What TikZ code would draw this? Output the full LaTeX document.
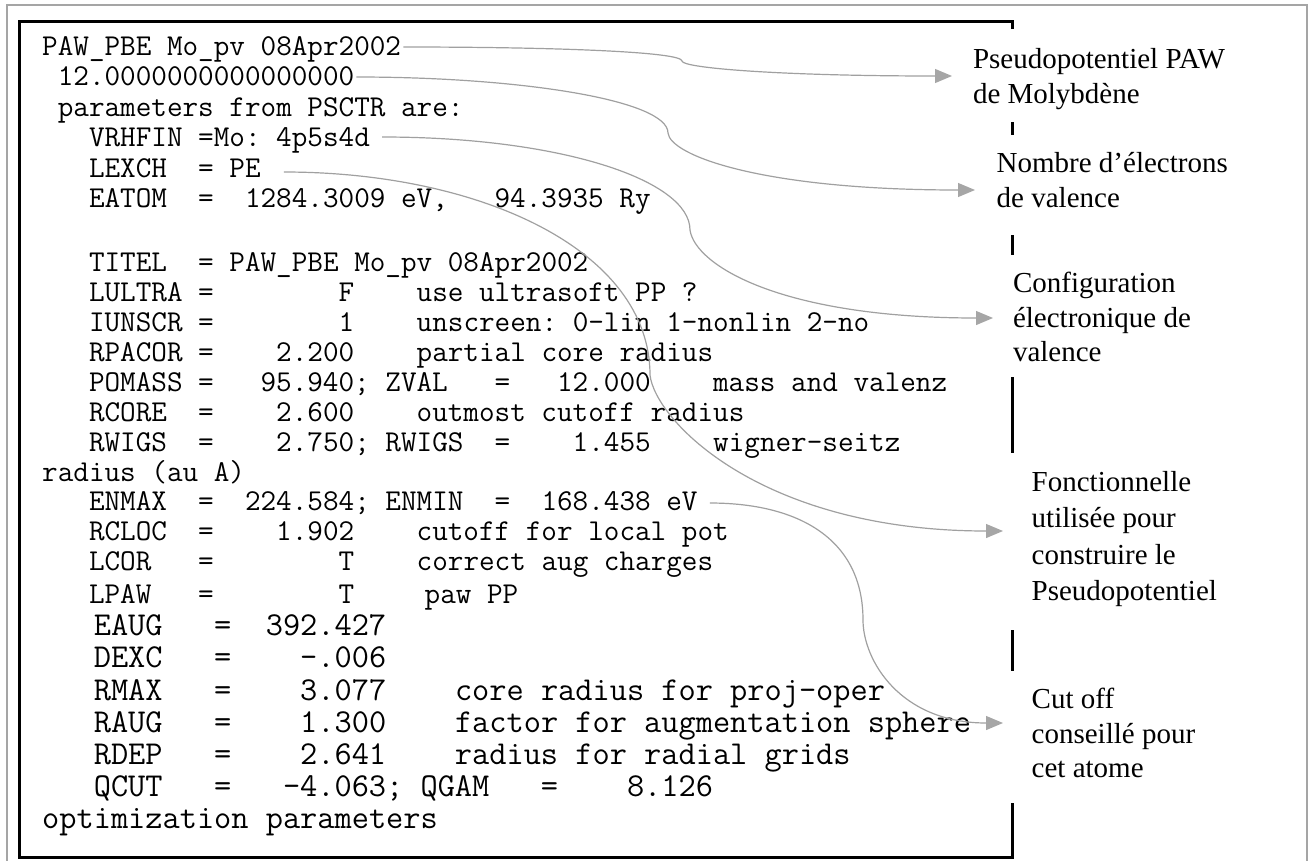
\documentclass[tikz,border=0pt]{standalone}
\usepackage{fontspec}
\setmainfont{Liberation Serif}
\usetikzlibrary{arrows.meta,calc}
\definecolor{linegray}{RGB}{160,160,160}
\definecolor{arrowgray}{RGB}{166,166,166}
\definecolor{framegray}{RGB}{165,165,165}
\newcommand\codefont{\ttfamily\fontsize{30.3}{30}\selectfont}
\newcommand\codefontbig{\ttfamily\fontsize{33.4}{33}\selectfont}
\newcommand\labfont{\fontsize{29}{34.5}\selectfont}
\newcommand\labfontb{\fontsize{29}{36.3}\selectfont}
\begin{document}
\begin{tikzpicture}[x=1pt,y=-1pt,
  code/.style={anchor=base west,inner sep=0pt,font=\codefont},
  codebig/.style={anchor=base west,inner sep=0pt,font=\codefontbig},
  lab/.style={anchor=north west,inner sep=0pt,align=left,font=\labfont},
  conn/.style={draw=linegray,line width=1.2pt,-{Triangle[length=17pt,width=14pt,color=arrowgray]}},
  boxline/.style={line width=3pt,black},
]
\useasboundingbox (0,0) rectangle (1309,860);
% outer gray frame
\draw[framegray,line width=2pt] (7,5) rectangle (1307,875);
% black box
\draw[boxline] (1012,29) -- (1012,21) -- (19,21) -- (19,857) -- (1012,857) -- (1012,803);
\draw[boxline] (1012,122) -- (1012,135);
\draw[boxline] (1012,235) -- (1012,255);
\draw[boxline] (1012,377) -- (1012,453);
\draw[boxline] (1012,630) -- (1012,671);

% code lines
\node[code] (l1)  at (42,55)  {PAW\_PBE~Mo\_pv~08Apr2002};
\node[code] (l2)  at (42,85)  {~12.0000000000000000};
\node[code] (l3)  at (42,116) {~parameters~from~PSCTR~are:};
\node[code] (l4)  at (42,146) {~~~VRHFIN~=Mo:~4p5s4d};
\node[code] (l5)  at (42,177) {~~~LEXCH~~=~PE};
\node[code] (l6)  at (42,207) {~~~EATOM~~=~~1284.3009~eV,~~~94.3935~Ry};
\node[code] (l8)  at (42,271) {~~~TITEL~~=~PAW\_PBE~Mo\_pv~08Apr2002};
\node[code] (l9)  at (42,301) {~~~LULTRA~=~~~~~~~~F~~~~use~ultrasoft~PP~?};
\node[code] (l10) at (42,331) {~~~IUNSCR~=~~~~~~~~1~~~~unscreen:~0-lin~1-nonlin~2-no};
\node[code] (l11) at (42,361) {~~~RPACOR~=~~~~2.200~~~~partial~core~radius};
\node[code] (l12) at (42,391) {~~~POMASS~=~~~95.940;~ZVAL~~~=~~~12.000~~~~mass~and~valenz};
\node[code] (l13) at (42,421) {~~~RCORE~~=~~~~2.600~~~~outmost~cutoff~radius};
\node[code] (l14) at (42,451) {~~~RWIGS~~=~~~~2.750;~RWIGS~~=~~~~1.455~~~~wigner-seitz};
\node[code] (l15) at (42,481) {radius~(au~A)};
\node[code] (l16) at (42,510) {~~~ENMAX~~=~~224.584;~ENMIN~~=~~168.438~eV};
\node[code] (l17) at (42,540) {~~~RCLOC~~=~~~~1.902~~~~cutoff~for~local~pot};
\node[code] (l18) at (42,570) {~~~LCOR~~~=~~~~~~~~T~~~~correct~aug~charges};
\node[code] (l19) at (42,603) {~~~LPAW~~~=~~~~~~~~T~~~~\hspace{8pt}paw~PP};
\node[codebig] (l20) at (42,635) {~~~EAUG~~~=~~392.427};
\node[codebig] (l21) at (42,667) {~~~DEXC~~~=~~~~-.006};
\node[codebig] (l22) at (42,700) {~~~RMAX~~~=~~~~3.077~~~~core~radius~for~proj-oper};
\node[codebig] (l23) at (42,732) {~~~RAUG~~~=~~~~1.300~~~~factor~for~augmentation~sphere};
\node[codebig] (l24) at (42,764) {~~~RDEP~~~=~~~~2.641~~~~radius~for~radial~grids};
\node[codebig] (l25) at (42,796) {~~~QCUT~~~=~~~-4.063;~QGAM~~~=~~~~8.126};
\node[codebig] (l26) at (42,828) {optimization~parameters};

% labels
\node[lab] (lab1) at (972.8,48.2) {Pseudopotentiel PAW\\de Molybdène};
\node[lab] (lab2) at (996.5,152.2) {Nombre d’électrons\\de valence};
\node[lab] (lab3) at (1012.8,272.2) {Configuration\\électronique de\\valence};
\node[lab,font=\labfontb] (lab4) at (1031.5,471.2) {Fonctionnelle\\utilisée pour\\construire le\\Pseudopotentiel};
\node[lab] (lab5) at (1031.5,688.2) {Cut off\\conseillé pour\\cet atome};

% connectors
\draw[conn] ($(l1.base east)+(2,-8)$) .. controls (560,47) and (682,52) .. (682,61)
  .. controls (682,68) and (780,76) .. ($(lab1.north west)+(-20.8,27.8)$);
\draw[conn] ($(l2.base east)+(2,-8)$) .. controls (520,77) and (668,100) .. (668,133)
  .. controls (670,155) and (760,190) .. ($(lab2.north west)+(-21.5,37.8)$);
\draw[conn] ($(l4.base east)+(12,-9)$) .. controls (560,137) and (690,180) .. (690,230)
  .. controls (695,265) and (780,318) .. ($(lab3.north west)+(-19.8,45.8)$);
\draw[conn] ($(l5.base east)+(23,-5)$) .. controls (480,172) and (650,250) .. (650,375)
  .. controls (655,420) and (760,531) .. ($(lab4.north west)+(-28.5,59.8)$);
\draw[conn] ($(l16.base east)+(12,-7)$) .. controls (800,503) and (863,540) .. (863,620)
  .. controls (863,660) and (900,723) .. ($(lab5.north west)+(-28.5,34.8)$);
\end{tikzpicture}
\end{document}
